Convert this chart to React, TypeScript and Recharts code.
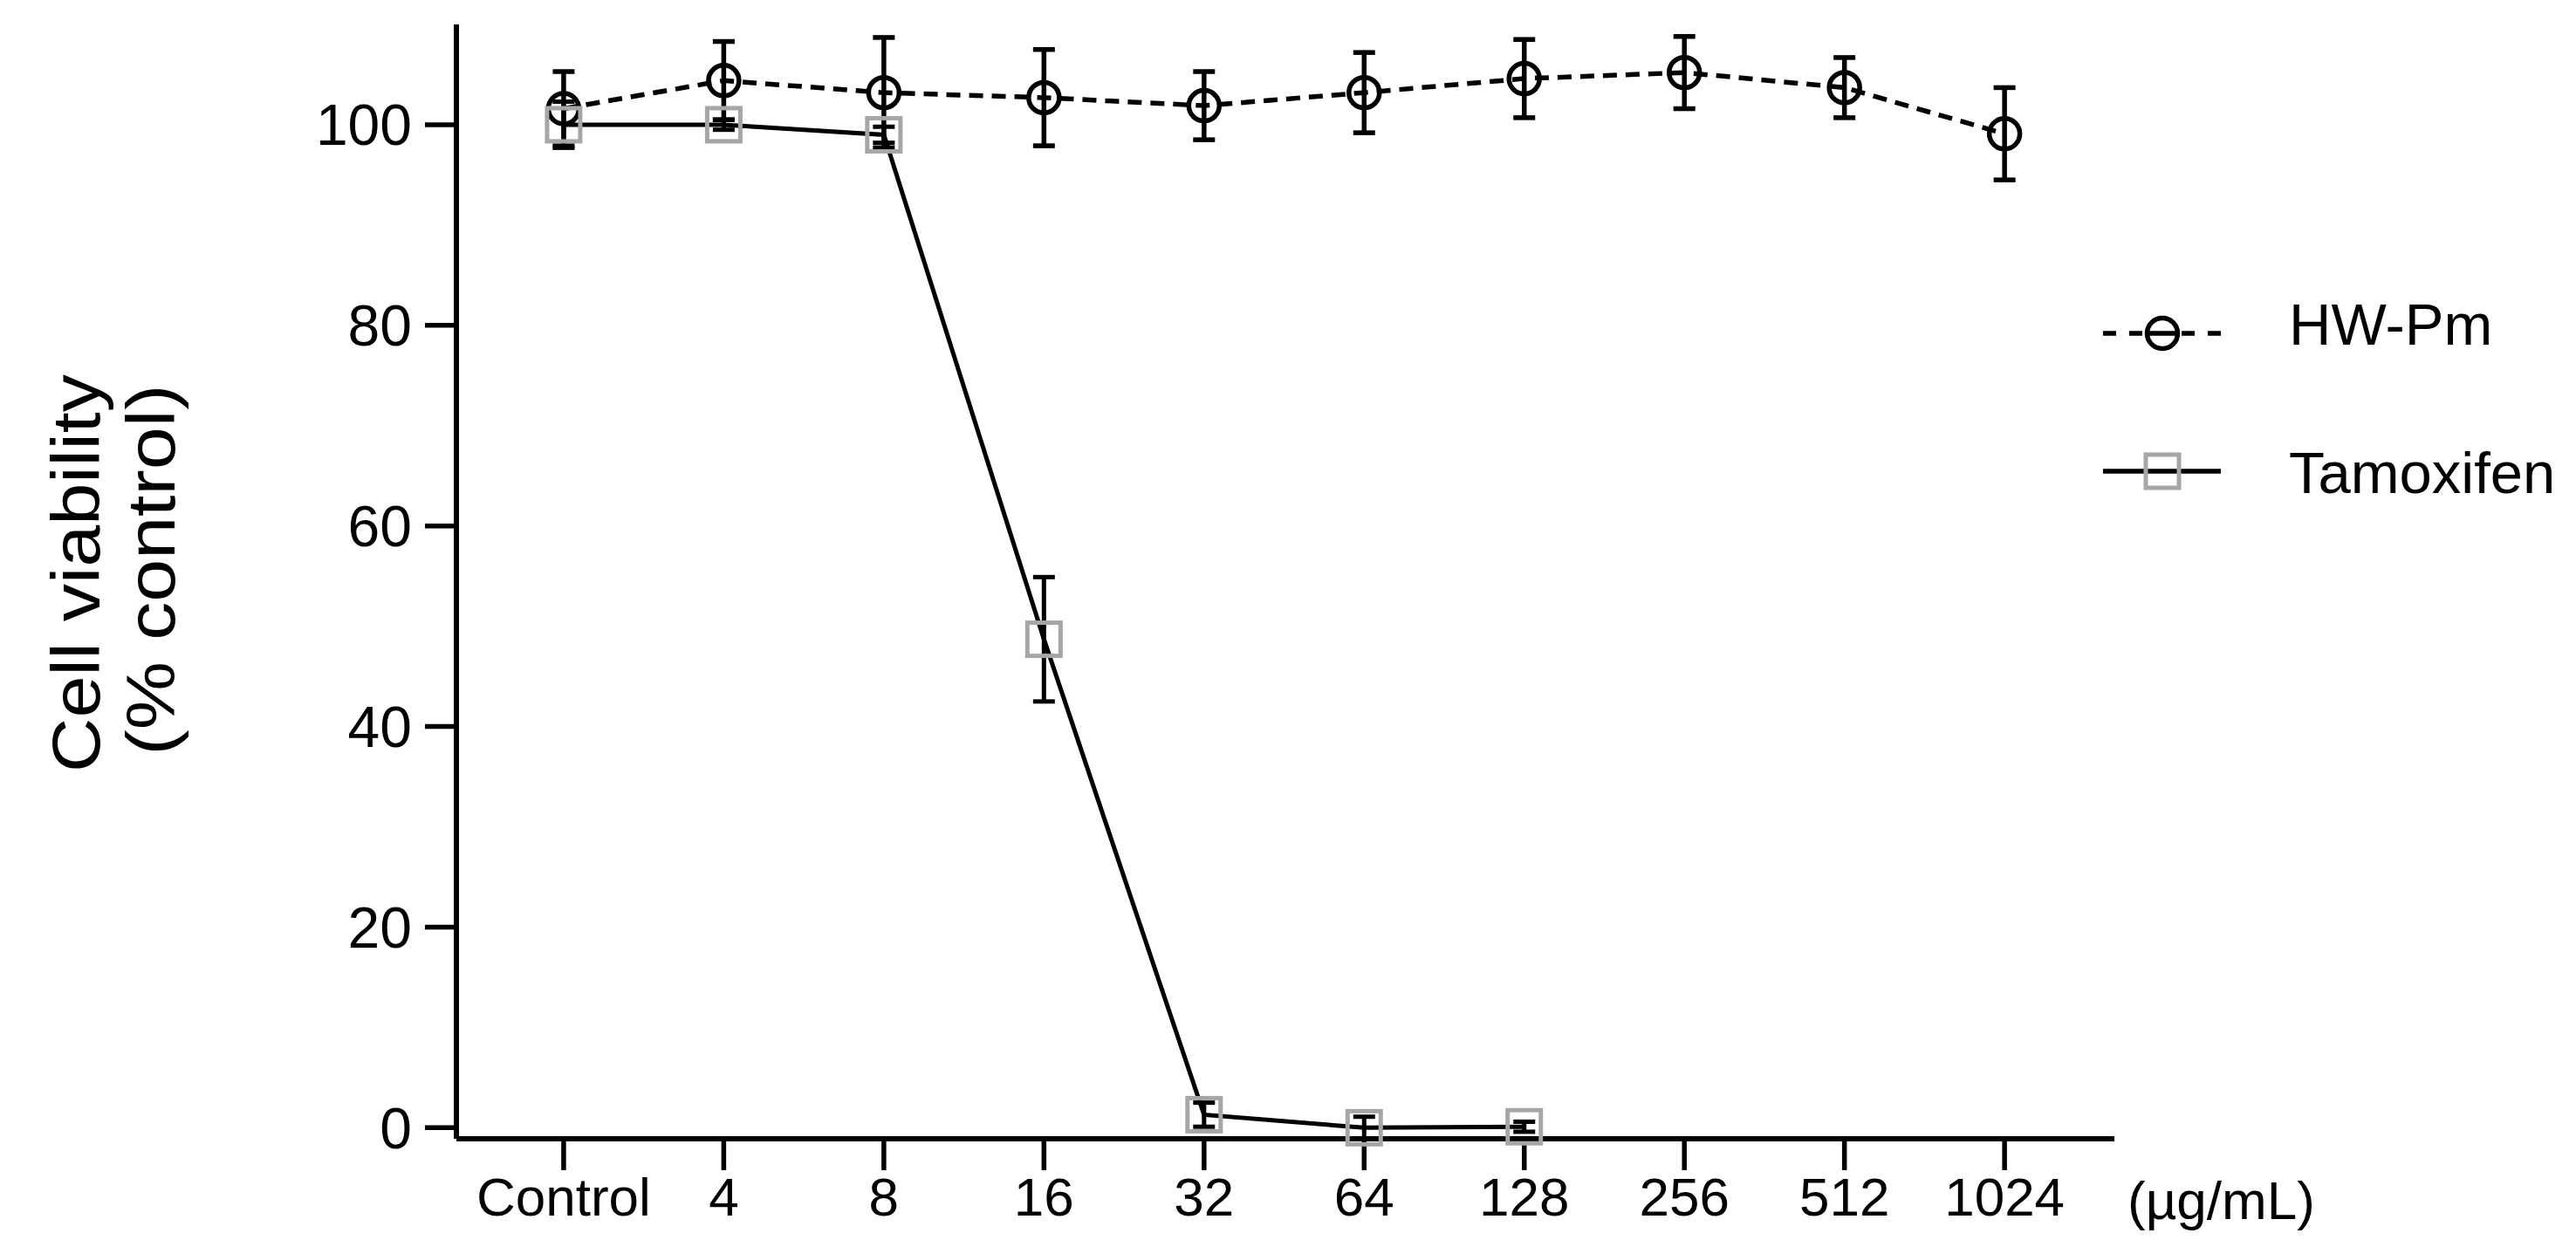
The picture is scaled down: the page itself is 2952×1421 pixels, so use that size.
import { CartesianGrid, ErrorBar, Line, LineChart, XAxis, YAxis } from "recharts";

const categories = ["Control", "4", "8", "16", "32", "64", "128", "256", "512", "1024"];
const hwPm = [101.6, 104.4, 103.2, 102.7, 101.9, 103.2, 104.6, 105.2, 103.7, 99.1];
const hwPmSem = [3.7, 3.9, 5.5, 4.8, 3.4, 4.0, 3.9, 3.6, 3.0, 4.6];
const tamoxifen = [100.0, 100.0, 99.0, 48.7, 1.3, 0.0, 0.1, null, null, null];
const tamoxifenSem = [2.3, 0.5, 0.8, 6.2, 1.2, 1.1, 0.5, null, null, null];
const yTicks = [0, 20, 40, 60, 80, 100];
const seriesNames = ["HW-Pm", "Tamoxifen"];

const FONT = '"Liberation Sans", Arial, Helvetica, sans-serif';
const SQUARE_GREY = "#a6a6a6";

const data = categories.map((label, i) => ({
  x: i,
  label,
  hw: hwPm[i],
  hwErr: hwPmSem[i],
  tam: tamoxifen[i],
  tamErr: tamoxifenSem[i],
}));

const CircleDot = (props: any) => {
  const { cx, cy, index } = props;
  if (cx == null || cy == null) return <g key={`c-${index}`} />;
  return <circle key={`c-${index}`} cx={cx} cy={cy} r={17.5} fill="none" stroke="#000" strokeWidth={5.5} />;
};

const SquareDot = (props: any) => {
  const { cx, cy, index, value } = props;
  if (cx == null || cy == null || value == null) return <g key={`s-${index}`} />;
  return (
    <rect
      key={`s-${index}`}
      x={cx - 19}
      y={cy - 19}
      width={38}
      height={38}
      fill="none"
      stroke={SQUARE_GREY}
      strokeWidth={5}
    />
  );
};

// two-line rotated y title, stretched a bit like the original
const YTitle = () => (
  <g fontFamily={FONT} fontSize={78} fill="#000">
    <text x={114} y={657} textAnchor="middle" transform="rotate(-90, 114, 657)" textLength={456} lengthAdjust="spacingAndGlyphs">
      Cell viability
    </text>
    <text x={200} y={653} textAnchor="middle" transform="rotate(-90, 200, 653)" textLength={425} lengthAdjust="spacingAndGlyphs">
      (% control)
    </text>
  </g>
);

const UnitLabel = (props: any) => {
  const { viewBox } = props;
  const x = viewBox.x + viewBox.width + 15;
  return (
    <text x={x} y={1397} fontFamily={FONT} fontSize={62} fill="#000" textAnchor="start">
      (µg/mL)
    </text>
  );
};

// legend drawn by hand, sits to the right of the plot
const LegendBox = () => (
  <svg
    width={552}
    height={280}
    style={{ position: "absolute", left: 2400, top: 320, overflow: "visible" }}
  >
    <line x1={10} y1={62} x2={145} y2={62} stroke="#000" strokeWidth={5.5} strokeDasharray="15 15" />
    <circle cx={78} cy={62} r={17.5} fill="#fff" stroke="#000" strokeWidth={5.5} />
    <line x1={62} y1={62} x2={94} y2={62} stroke="#000" strokeWidth={5.5} />
    <text x={223} y={75} fontFamily={FONT} fontSize={67} fill="#000">
      {seriesNames[0]}
    </text>
    <line x1={10} y1={220} x2={145} y2={220} stroke="#000" strokeWidth={5.5} />
    <rect x={59} y={201} width={38} height={38} fill="none" stroke={SQUARE_GREY} strokeWidth={5} />
    <text x={223} y={245} fontFamily={FONT} fontSize={67} fill="#000">
      {seriesNames[1]}
    </text>
  </svg>
);

export default function App() {
  return (
    <div style={{ position: "absolute", left: 0, top: 0, width: 2952, height: 1421, background: "#fff" }}>
      <LineChart width={2952} height={1421} data={data} margin={{ top: 28, right: 529, bottom: 0, left: 0 }}>
        <CartesianGrid stroke="none" />
        <XAxis
          type="number"
          dataKey="x"
          domain={[-0.67, 9.686]}
          ticks={[0, 1, 2, 3, 4, 5, 6, 7, 8, 9]}
          tickFormatter={(v: number) => categories[v] ?? ""}
          interval={0}
          height={116}
          axisLine={{ stroke: "#000", strokeWidth: 6 }}
          tickLine={{ stroke: "#000", strokeWidth: 5.5 }}
          tickSize={36}
          tickMargin={8}
          tick={{ fill: "#000", fontSize: 62, fontFamily: FONT }}
          label={<UnitLabel />}
        />
        <YAxis
          type="number"
          domain={[0, 110]}
          ticks={yTicks}
          width={523}
          axisLine={{ stroke: "#000", strokeWidth: 6 }}
          tickLine={{ stroke: "#000", strokeWidth: 5.5 }}
          tickSize={36}
          tickMargin={15}
          tick={{ fill: "#000", fontSize: 66, fontFamily: FONT }}
          label={<YTitle />}
        />
        <Line
          name={seriesNames[0]}
          dataKey="hw"
          type="linear"
          stroke="#000"
          strokeWidth={5.5}
          strokeDasharray="16 10"
          dot={<CircleDot />}
          activeDot={false}
          isAnimationActive={false}
        >
          <ErrorBar dataKey="hwErr" direction="y" width={12.5} stroke="#000" strokeWidth={5.5} />
        </Line>
        <Line
          name={seriesNames[1]}
          dataKey="tam"
          type="linear"
          stroke="#000"
          strokeWidth={5}
          dot={<SquareDot />}
          activeDot={false}
          isAnimationActive={false}
        >
          <ErrorBar dataKey="tamErr" direction="y" width={12.5} stroke="#000" strokeWidth={5} />
        </Line>
      </LineChart>
      <LegendBox />
    </div>
  );
}
